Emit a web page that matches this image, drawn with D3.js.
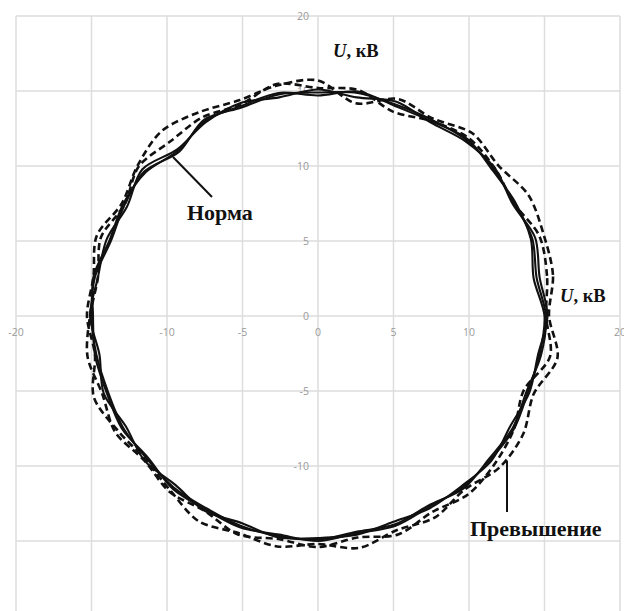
<!DOCTYPE html>
<html>
<head>
<meta charset="utf-8">
<script src="https://cdn.jsdelivr.net/npm/d3@7"></script>
<style>
  html, body { margin: 0; padding: 0; background: #fff; }
  svg { display: block; }
</style>
</head>
<body>
<svg id="chart" width="624" height="611"></svg>
<script>
// Axis ticks
const gridTicks = [-20, -15, -10, -5, 0, 5, 10, 15, 20];
const xTickLabels = [-20, -10, -5, 0, 5, 10, 20];
const yTickLabels = [20, 15, 10, 5, 0, -5, -10, -20];

// Sampling angles of each trajectory, degrees counter-clockwise from +U axis
const angles = d3.range(0, 360, 10);

// Radius of each voltage trajectory (kV) at the angles above
const normaA = [15.1, 14.7, 15.1, 15.0, 15.2, 15.3, 15.1, 15.0, 15.1, 14.9, 15.0, 14.8,
                15.1, 14.3, 15.0, 14.8, 14.6, 15.0, 15.0, 14.9, 14.8, 14.9, 14.8, 14.9,
                14.8, 14.9, 14.9, 14.9, 14.6, 14.8, 14.6, 15.0, 14.8, 14.9, 14.7, 15.0];
const normaB = [15.2, 14.9, 15.3, 14.9, 15.3, 15.2, 14.9, 15.2, 14.8, 15.1, 14.8, 15.1,
                14.9, 14.5, 15.2, 14.6, 14.9, 14.8, 15.1, 14.7, 15.1, 14.7, 15.0, 14.7,
                15.0, 14.7, 15.0, 14.8, 14.8, 14.6, 14.8, 14.8, 15.0, 14.7, 14.9, 14.8];
const normaC = [15.0, 14.5, 15.0, 15.1, 15.1, 15.4, 15.0, 14.9, 15.2, 14.7, 15.1, 14.9,
                15.0, 14.4, 14.9, 14.9, 14.7, 15.1, 14.9, 15.0, 14.9, 15.0, 14.7, 15.0,
                14.9, 15.0, 14.8, 15.0, 14.7, 14.9, 14.7, 14.9, 14.9, 15.0, 14.8, 14.9];
const excessA = [15.3, 15.8, 15.9, 16.1, 15.6, 15.9, 15.2, 15.4, 14.4, 15.7, 15.6, 15.3,
                 15.7, 16.1, 15.6, 15.0, 15.6, 15.1, 15.3, 15.0, 15.8, 15.3, 14.9, 15.2,
                 15.8, 15.4, 15.6, 15.2, 15.7, 15.2, 15.5, 15.1, 15.7, 15.7, 15.2, 16.1];
const excessB = [15.1, 15.4, 15.6, 15.0, 15.3, 15.5, 15.0, 14.5, 15.3, 15.2, 15.7, 15.0,
                 15.3, 15.2, 15.5, 14.8, 15.3, 14.8, 15.1, 15.5, 15.2, 15.5, 15.0, 15.3,
                 15.0, 15.5, 15.1, 15.4, 15.0, 15.5, 15.1, 15.5, 15.3, 15.0, 14.5, 15.6];

const series = [
  { name: "Норма", r: normaA, dash: null },
  { name: "Норма", r: normaB, dash: null },
  { name: "Норма", r: normaC, dash: null },
  { name: "Превышение", r: excessA, dash: "7,4" },
  { name: "Превышение", r: excessB, dash: "7,4" }
];

const svg = d3.select("#chart");
const x = d3.scaleLinear().domain([-20, 20]).range([16, 620]);
const y = d3.scaleLinear().domain([-20, 20]).range([616, 16]);

// Grid
const grid = svg.append("g").attr("stroke", "#dddddd").attr("stroke-width", 1.5);
grid.selectAll("line.v").data(gridTicks).join("line")
  .attr("class", "v")
  .attr("x1", d => x(d)).attr("x2", d => x(d))
  .attr("y1", y(20)).attr("y2", y(-20));
grid.selectAll("line.h").data(gridTicks).join("line")
  .attr("class", "h")
  .attr("y1", d => y(d)).attr("y2", d => y(d))
  .attr("x1", x(-20)).attr("x2", x(20));

// Tick labels
const labelFont = "'Open Sans', 'Liberation Sans', sans-serif";
svg.append("g").selectAll("text").data(xTickLabels).join("text")
  .attr("x", d => x(d)).attr("y", y(0) + 20)
  .attr("text-anchor", "middle")
  .attr("font-family", labelFont).attr("font-size", 10.5)
  .attr("fill", "#9a9a9a")
  .text(d => d);
svg.append("g").selectAll("text").data(yTickLabels).join("text")
  .attr("x", x(0) - 9).attr("y", d => y(d))
  .attr("dy", "0.35em")
  .attr("text-anchor", "end")
  .attr("font-family", labelFont).attr("font-size", 10.5)
  .attr("fill", "#9a9a9a")
  .text(d => d);

// Trajectories
const line = d3.line()
  .x(d => x(d.r * Math.cos(d.a * Math.PI / 180)))
  .y(d => y(d.r * Math.sin(d.a * Math.PI / 180)))
  .curve(d3.curveCardinalClosed.tension(0.1));

svg.append("g").selectAll("path").data(series).join("path")
  .attr("d", s => line(angles.map((a, i) => ({ a: a, r: s.r[i] }))))
  .attr("fill", "none")
  .attr("stroke", "#111")
  .attr("stroke-width", s => s.dash ? 2.6 : 2.1)
  .attr("stroke-dasharray", s => s.dash);

// Annotations
const serif = "'Liberation Serif', 'Times New Roman', serif";
function axisName(px, py) {
  const t = svg.append("text")
    .attr("x", px).attr("y", py)
    .attr("font-family", serif).attr("font-size", 18.5)
    .attr("font-weight", "bold").attr("fill", "#111");
  t.append("tspan").attr("font-style", "italic").text("U");
  t.append("tspan").text(", кВ");
}
axisName(333, 57);
axisName(560, 302);

svg.append("line")
  .attr("x1", 173).attr("y1", 157).attr("x2", 212).attr("y2", 197)
  .attr("stroke", "#111").attr("stroke-width", 2);
svg.append("text")
  .attr("x", 187).attr("y", 220)
  .attr("font-family", serif).attr("font-size", 22)
  .attr("font-weight", "bold").attr("fill", "#111")
  .text("Норма");

svg.append("line")
  .attr("x1", 507).attr("y1", 461).attr("x2", 507).attr("y2", 512)
  .attr("stroke", "#111").attr("stroke-width", 2);
svg.append("text")
  .attr("x", 470).attr("y", 536)
  .attr("font-family", serif).attr("font-size", 22)
  .attr("font-weight", "bold").attr("fill", "#111")
  .text("Превышение");
</script>
</body>
</html>
